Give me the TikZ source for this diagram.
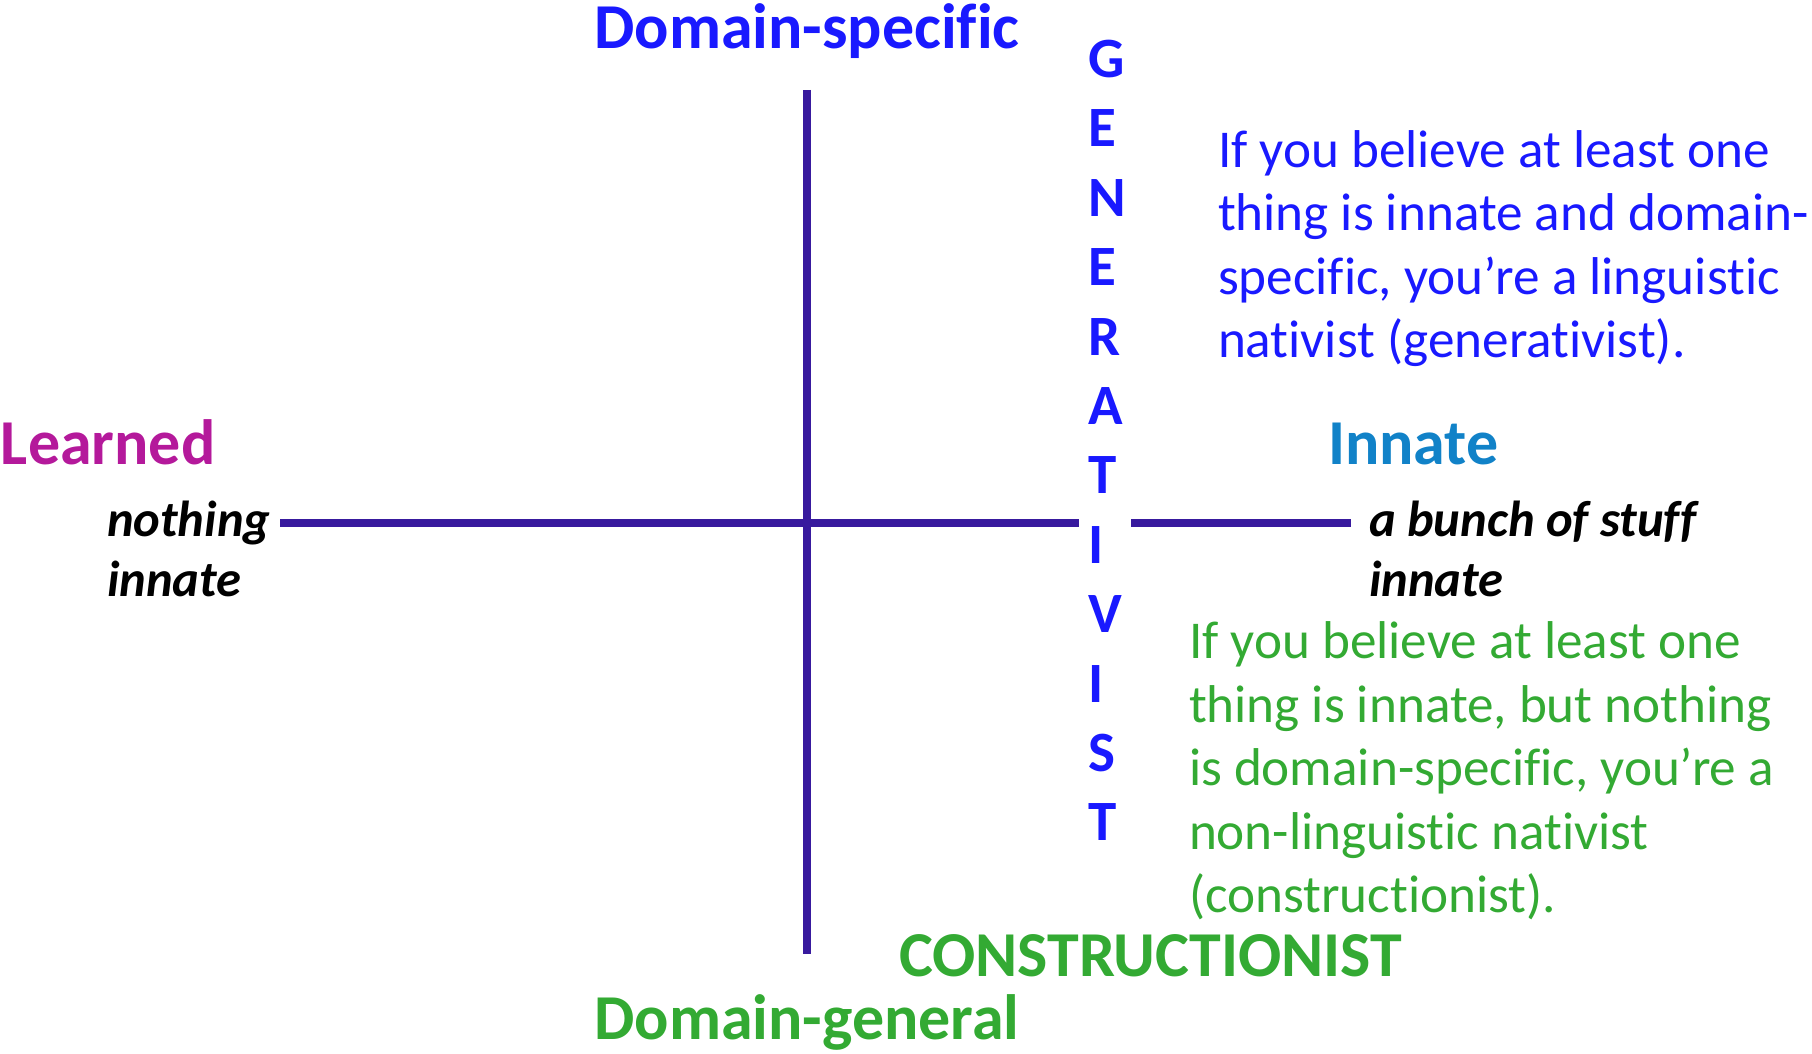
\documentclass[tikz,border=0pt]{standalone}
\usepackage{fontspec}
\setmainfont{Carlito}[Ligatures={NoCommon,NoRare}]
\definecolor{axiscol}{RGB}{56,26,158}
\definecolor{genblue}{RGB}{25,25,255}
\definecolor{congreen}{RGB}{51,170,51}
\definecolor{learnmag}{RGB}{180,25,155}
\definecolor{innblue}{RGB}{17,130,200}
\begin{document}
\begin{tikzpicture}[x=0.5pt,y=-0.5pt,
  lbl/.style={inner sep=0pt,outer sep=0pt},
  biglbl/.style={lbl,font=\fontsize{32}{38.4}\selectfont\bfseries},
  itlbl/.style={lbl,font=\fontsize{25.3}{30}\selectfont\bfseries\itshape,text=black},
  para/.style={lbl,font=\fontsize{26.6}{31.75}\selectfont},
  vert/.style={lbl,font=\fontsize{28.5}{34.7}\selectfont\bfseries,text=genblue},
  axisline/.style={draw=axiscol,line width=4pt}]
\useasboundingbox (0,0) rectangle (1812,1054);

% axes
\coordinate (hL) at (280,523);
\coordinate (hGapL) at (1078.5,523);
\coordinate (hGapR) at (1131,523);
\coordinate (hR) at (1350.5,523);
\coordinate (vT) at (807,90);
\coordinate (vB) at (807,954);
\draw[axisline] (hL) -- (hGapL);
\draw[axisline] (hGapR) -- (hR);
\draw[axisline] (vT) -- (vB);

% axis labels
\node[biglbl,text=genblue,anchor=base] (dspec) at (807,48.5) {Domain-specific};
\node[biglbl,text=congreen,anchor=base] (dgen) at (807,1039) {Domain-general};
\node[biglbl,text=learnmag,anchor=base west] (learned) at (1,464) {Learned};
\node[biglbl,text=innblue,anchor=base west] (innate) at (1328,464) {Innate};

\node[itlbl,anchor=base west] (nothing) at (107,536)
  {\vtop{\hbox{nothing}\hbox{innate}}};
\node[itlbl,anchor=base west] (bunch) at (1369,536)
  {\vtop{\hbox{a bunch of stuff}\hbox{innate}}};

% vertical GENERATIVIST
\node[vert,anchor=base west] (generativist) at (1088,77.5)
  {\vtop{\hbox{G}\hbox{E}\hbox{N}\hbox{E}\hbox{R}\hbox{A}\hbox{T}\hbox{I}\hbox{V}\hbox{I}\hbox{S}\hbox{T}}};

\node[biglbl,text=congreen,anchor=base west] (constr) at (899,976) {CONSTRUCTIONIST};

% paragraphs
\node[para,text=genblue,anchor=base west] (bluepara) at (1218,167.5)
  {\vtop{\hbox{If you believe at least one}\hbox{thing is innate and domain-}\hbox{specific, you’re a linguistic}\hbox{nativist (generativist).}}};
\node[para,text=congreen,anchor=base west] (greenpara) at (1189,658.5)
  {\vtop{\hbox{If you believe at least one}\hbox{thing is innate, but nothing}\hbox{is domain-specific, you’re a}\hbox{non-linguistic nativist}\hbox{(constructionist).}}};
\end{tikzpicture}
\end{document}
